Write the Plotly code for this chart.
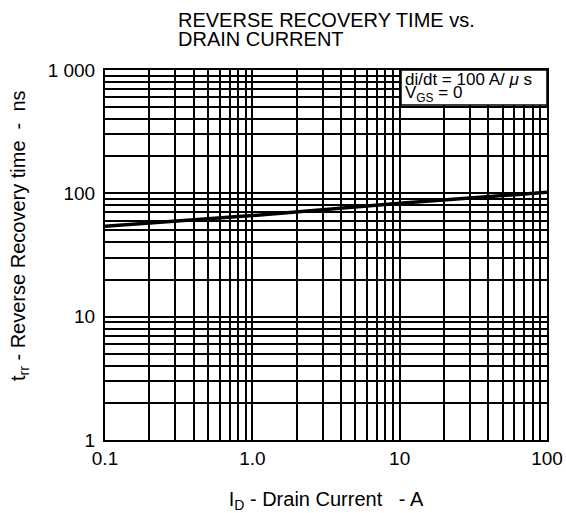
import plotly.graph_objects as go

# Data
drain_current = [0.1, 1.0, 10, 100]          # A
recovery_time = [54, 66, 83, 102]            # ns

x_tickvals = [0.1, 1, 10, 100]
x_ticktext = ["0.1", "1.0", "10", "100"]
y_tickvals = [1, 10, 100, 1000]
y_ticktext = ["1", "10", "100", "1 000"]

x_minor = [m * d for d in [0.1, 1, 10] for m in range(2, 10)]
y_minor = [m * d for d in [1, 10, 100] for m in range(2, 10)]

font_family = "Liberation Sans, Arial, sans-serif"
W, H = 566, 513
L, R, T, B = 105, 19, 70, 73
PW, PH = W - L - R, H - T - B

def px(xp):
    return (xp - L) / PW

def py(yp):
    return (H - B - yp) / PH

fig = go.Figure()
fig.add_trace(go.Scatter(
    x=drain_current, y=recovery_time, mode="lines",
    line=dict(color="black", width=3.5), showlegend=False, hoverinfo="skip",
))

axis_common = dict(
    type="log", showline=True, linecolor="black", linewidth=2, mirror=True,
    showgrid=True, gridcolor="black", gridwidth=1.5, ticks="", zeroline=False,
    automargin=False,
    tickfont=dict(family=font_family, size=19, color="black"),
)

fig.update_xaxes(
    **axis_common, range=[-1, 2], tickvals=x_tickvals, ticktext=x_ticktext,
    minor=dict(tickvals=x_minor, showgrid=True, gridcolor="black", gridwidth=1.5, ticks=""),
    title=dict(text="I<sub>D</sub> - Drain Current   - A", standoff=24,
               font=dict(family=font_family, size=20, color="black")),
)
fig.update_yaxes(
    **axis_common, range=[0, 3], tickvals=y_tickvals, ticktext=y_ticktext,
    ticklabelstandoff=4,
    minor=dict(tickvals=y_minor, showgrid=True, gridcolor="black", gridwidth=1.5, ticks=""),
)

# y-axis title
fig.add_annotation(
    xref="paper", yref="paper", x=px(19), y=py(236), xanchor="center", yanchor="middle",
    textangle=-90, text="t<sub>rr</sub> - Reverse Recovery time  -  ns",
    showarrow=False, font=dict(family=font_family, size=20, color="black"),
)

# condition box
fig.add_shape(
    type="rect", xref="paper", yref="paper",
    x0=px(401), x1=1, y0=py(105), y1=1,
    fillcolor="white", line=dict(color="black", width=1.5), layer="above",
)
fig.add_annotation(
    xref="paper", yref="paper", x=px(403), y=py(91), xanchor="left", yanchor="bottom",
    text="di/dt = 100 A/ <i>μ</i> s", showarrow=False,
    font=dict(family=font_family, size=17, color="black"),
)
fig.add_annotation(
    xref="paper", yref="paper", x=px(403), y=py(107), xanchor="left", yanchor="bottom",
    text="V<sub>GS</sub> = 0", showarrow=False,
    font=dict(family=font_family, size=17, color="black"),
)

# title (two lines)
fig.add_annotation(
    xref="paper", yref="paper", x=px(176), y=py(33), xanchor="left", yanchor="bottom",
    text="REVERSE RECOVERY TIME vs.", showarrow=False,
    font=dict(family=font_family, size=20, color="black"),
)
fig.add_annotation(
    xref="paper", yref="paper", x=px(176), y=py(52), xanchor="left", yanchor="bottom",
    text="DRAIN CURRENT", showarrow=False,
    font=dict(family=font_family, size=20, color="black"),
)

fig.update_layout(
    width=W, height=H,
    margin=dict(l=L, r=R, t=T, b=B),
    paper_bgcolor="white", plot_bgcolor="white",
)

fig.write_html("out.html", config={"displayModeBar": False},
               post_script="document.body.style.margin='0';")
